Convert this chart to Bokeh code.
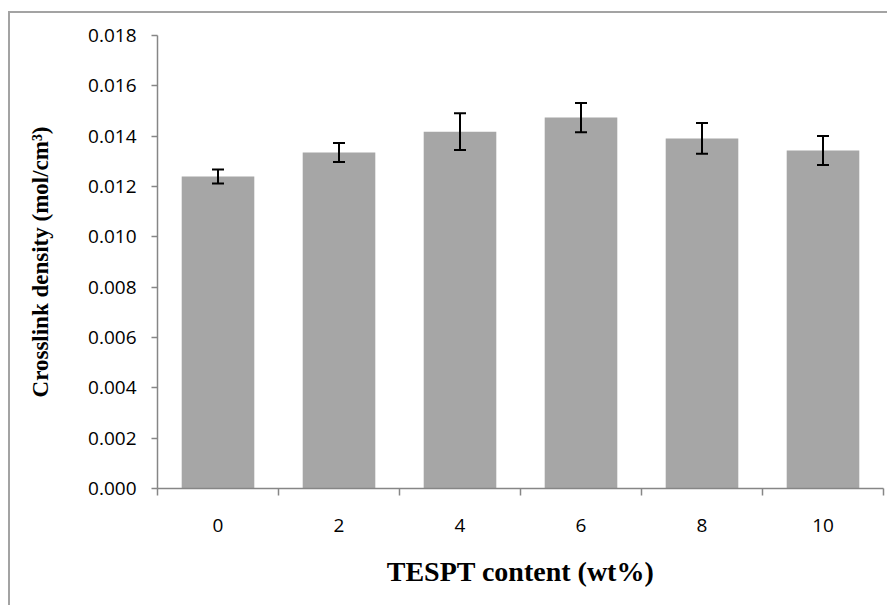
from bokeh.plotting import figure
from bokeh.models import Range1d, LinearAxis, FixedTicker, NumeralTickFormatter, Whisker, ColumnDataSource, TeeHead
from bokeh.embed import file_html
from bokeh.resources import INLINE

# Data
tespt = ["0", "2", "4", "6", "8", "10"]
crosslink_density = [0.01240, 0.01335, 0.01418, 0.01474, 0.01391, 0.01343]
error = [0.00028, 0.00038, 0.00073, 0.00058, 0.00061, 0.00058]
y_ticks = [0.000, 0.002, 0.004, 0.006, 0.008, 0.010, 0.012, 0.014, 0.016, 0.018]

n = len(tespt)
centres = [i + 0.5 for i in range(n)]
lower = [v - e for v, e in zip(crosslink_density, error)]
upper = [v + e for v, e in zip(crosslink_density, error)]
src = ColumnDataSource(dict(x=centres, y=crosslink_density, lo=lower, hi=upper))

AXIS_COLOR = "#868686"

p = figure(width=879, height=594, x_range=Range1d(0, n),
           y_range=Range1d(0, 0.018), output_backend="svg", toolbar_location=None,
           x_axis_location=None, min_border_left=147, min_border_right=6,
           min_border_top=22, min_border_bottom=119)
p.margin = (11, 0, 0, 8)
p.styles = {"border-left": "2px solid #a3a3a3", "border-top": "2px solid #a3a3a3"}
p.outline_line_color = None
p.xgrid.visible = False
p.ygrid.visible = False

p.vbar(x="x", top="y", width=0.6, source=src, fill_color="#a6a6a6", line_color=None)

w = Whisker(base="x", lower="lo", upper="hi", source=src, line_color="black", line_width=2,
            level="overlay",
            upper_head=TeeHead(size=12, line_color="black", line_width=2),
            lower_head=TeeHead(size=12, line_color="black", line_width=2))
p.add_layout(w)

# x axis: ticks at category boundaries, labels at centres
xaxis = LinearAxis(ticker=FixedTicker(ticks=centres, minor_ticks=list(range(n + 1))),
                   major_label_overrides={c: t for c, t in zip(centres, tespt)})
xaxis.major_tick_line_color = None
xaxis.minor_tick_out = 7
xaxis.minor_tick_in = 0
xaxis.minor_tick_line_color = AXIS_COLOR
xaxis.minor_tick_line_width = 1.5
xaxis.axis_line_color = AXIS_COLOR
xaxis.axis_line_width = 1.5
xaxis.major_label_text_font = "Open Sans"
xaxis.major_label_text_font_size = "19px"
xaxis.major_label_text_color = "black"
xaxis.major_label_standoff = 23
xaxis.axis_label = "TESPT content (wt%)"
xaxis.axis_label_text_font = "Liberation Serif"
xaxis.axis_label_text_font_style = "bold"
xaxis.axis_label_text_font_size = "28px"
xaxis.axis_label_text_color = "black"
xaxis.axis_label_standoff = 21
p.add_layout(xaxis, "below")

yaxis = p.yaxis[0]
yaxis.ticker = FixedTicker(ticks=y_ticks)
yaxis.formatter = NumeralTickFormatter(format="0.000")
yaxis.minor_tick_line_color = None
yaxis.major_tick_in = 0
yaxis.major_tick_out = 6
yaxis.major_tick_line_color = AXIS_COLOR
yaxis.major_tick_line_width = 1.5
yaxis.axis_line_color = AXIS_COLOR
yaxis.axis_line_width = 1.5
yaxis.major_label_text_font = "Open Sans"
yaxis.major_label_text_font_size = "19px"
yaxis.major_label_text_color = "black"
yaxis.major_label_standoff = 15
yaxis.axis_label = "Crosslink density (mol/cm³)"
yaxis.axis_label_text_font = "Liberation Serif"
yaxis.axis_label_text_font_style = "bold"
yaxis.axis_label_text_font_size = "23px"
yaxis.axis_label_text_color = "black"
yaxis.axis_label_standoff = 32

open("out.html", "w").write(file_html(p, INLINE))
